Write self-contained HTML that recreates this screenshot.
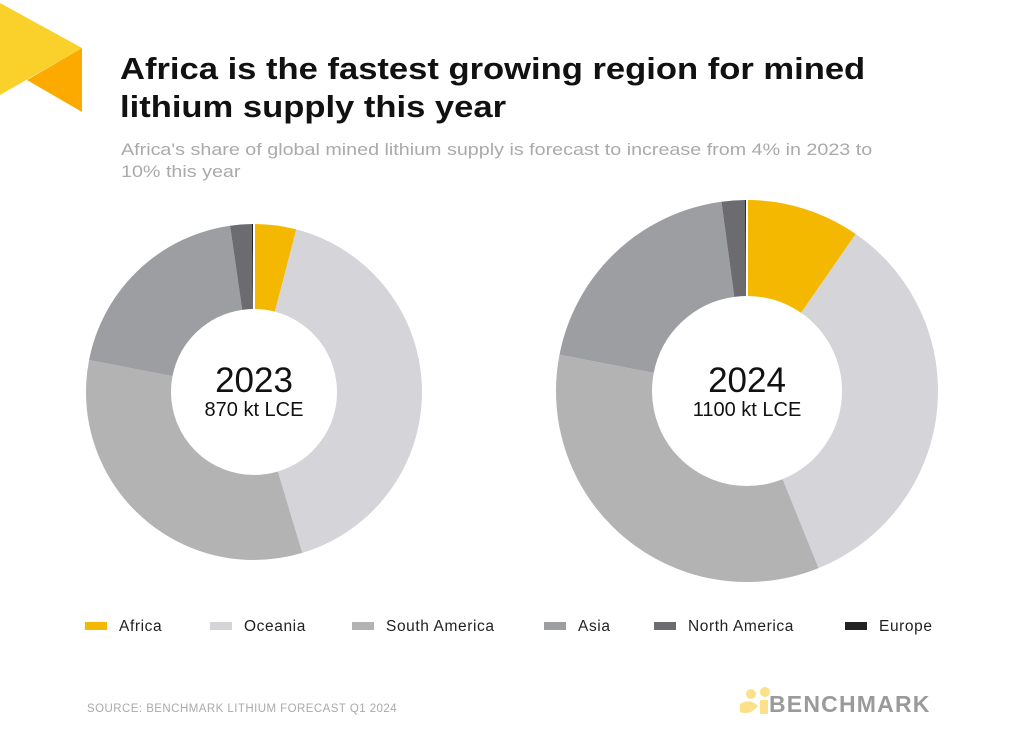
<!DOCTYPE html>
<html><head><meta charset="utf-8"><style>
body{margin:0;width:1024px;height:746px;background:#fff;font-family:"Liberation Sans",sans-serif;position:relative;overflow:hidden}
.t{position:absolute;left:120px;top:50px;font-size:31px;font-weight:bold;color:#111;line-height:38px;white-space:nowrap;transform:scaleX(1.115);transform-origin:0 0}
.s{position:absolute;left:121px;top:139px;font-size:16.5px;color:#aaa;line-height:22px;white-space:nowrap;transform:scaleX(1.195);transform-origin:0 0}
.lg{position:absolute;top:618px;font-size:15.5px;color:#222;letter-spacing:0.6px}
.lg i{display:inline-block;width:22px;height:8px;margin-right:12px;vertical-align:middle;position:relative;top:-1px}
.src{position:absolute;left:87px;top:703px;font-size:11.5px;color:#aaa;letter-spacing:0.45px}
.bm{position:absolute;left:769px;top:691px;font-size:23px;font-weight:bold;color:#9a9a9a;letter-spacing:1.2px}
</style></head><body>
<svg width="1024" height="746" style="position:absolute;left:0;top:0">
<polygon points="0,3 82,48 0,95" fill="#f9d12a"/>
<polygon points="82,48 82,112 27,80" fill="#fdaa00"/>
<g transform="translate(254,392) rotate(-90)" fill="none" stroke-width="85">
<circle r="125.5" pathLength="360" stroke="#f5b800" stroke-dasharray="14.6 400" stroke-dashoffset="0"/>
<circle r="125.5" pathLength="360" stroke="#d5d5d9" stroke-dasharray="148.7 400" stroke-dashoffset="-14.6"/>
<circle r="125.5" pathLength="360" stroke="#b3b3b3" stroke-dasharray="117.7 400" stroke-dashoffset="-163.3"/>
<circle r="125.5" pathLength="360" stroke="#9d9ea2" stroke-dasharray="70.8 400" stroke-dashoffset="-281"/>
<circle r="125.5" pathLength="360" stroke="#6b6b70" stroke-dasharray="7.4 400" stroke-dashoffset="-351.8"/>
<circle r="125.5" pathLength="360" stroke="#222" stroke-dasharray="0.8 400" stroke-dashoffset="-359.2"/>
</g>
<g transform="translate(747,391) rotate(-90)" fill="none" stroke-width="96">
<circle r="143" pathLength="360" stroke="#f5b800" stroke-dasharray="34.7 400" stroke-dashoffset="0"/>
<circle r="143" pathLength="360" stroke="#d5d5d9" stroke-dasharray="123.3 400" stroke-dashoffset="-34.7"/>
<circle r="143" pathLength="360" stroke="#b3b3b3" stroke-dasharray="123 400" stroke-dashoffset="-158"/>
<circle r="143" pathLength="360" stroke="#9d9ea2" stroke-dasharray="71.3 400" stroke-dashoffset="-281"/>
<circle r="143" pathLength="360" stroke="#6b6b70" stroke-dasharray="7.2 400" stroke-dashoffset="-352.3"/>
<circle r="143" pathLength="360" stroke="#222" stroke-dasharray="0.6 400" stroke-dashoffset="-359.4"/>
</g>
<g stroke="#fff" stroke-width="2">
<line x1="254" y1="392" x2="254" y2="222"/><line x1="747" y1="391" x2="747" y2="198"/>
</g>
<text x="254" y="392" text-anchor="middle" font-size="35" fill="#111" font-family="Liberation Sans">2023</text>
<text x="254" y="416" text-anchor="middle" font-size="20" fill="#111" font-family="Liberation Sans">870 kt LCE</text>
<text x="747" y="392" text-anchor="middle" font-size="35" fill="#111" font-family="Liberation Sans">2024</text>
<text x="747" y="416" text-anchor="middle" font-size="20" fill="#111" font-family="Liberation Sans">1100 kt LCE</text>
<circle cx="751" cy="694" r="5" fill="#fde08a"/>
<circle cx="765" cy="692" r="5" fill="#fde08a"/>
<rect x="760" y="700" width="8" height="14" fill="#fde08a"/>
<path d="M740 704 q10 -6 18 2 q-8 10 -18 6z" fill="#fde08a"/>
</svg>
<div class="t">Africa is the fastest growing region for mined<br>lithium supply this year</div>
<div class="s">Africa's share of global mined lithium supply is forecast to increase from 4% in 2023 to<br>10% this year</div>
<div class="lg" style="left:85px"><i style="background:#f5b800"></i>Africa</div>
<div class="lg" style="left:210px"><i style="background:#d5d5d9"></i>Oceania</div>
<div class="lg" style="left:352px"><i style="background:#b3b3b3"></i>South America</div>
<div class="lg" style="left:544px"><i style="background:#9d9ea2"></i>Asia</div>
<div class="lg" style="left:654px"><i style="background:#6b6b70"></i>North America</div>
<div class="lg" style="left:845px"><i style="background:#222"></i>Europe</div>
<div class="src">SOURCE: BENCHMARK LITHIUM FORECAST Q1 2024</div>
<div class="bm">BENCHMARK</div>
</body></html>
